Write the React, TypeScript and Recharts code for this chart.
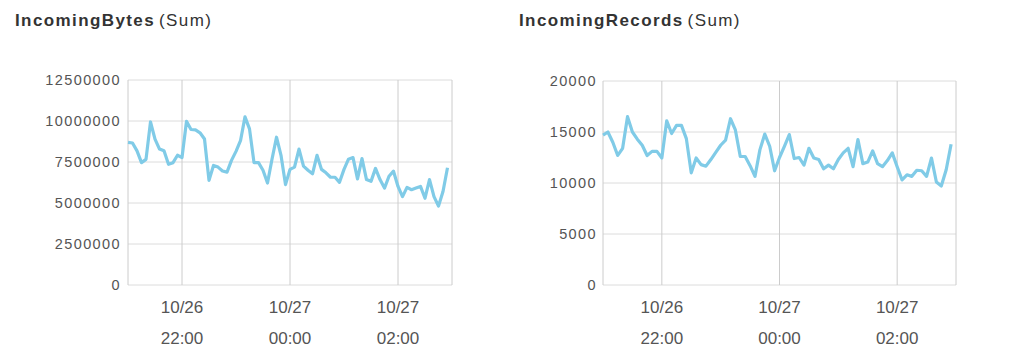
import React from 'react';
import { CartesianGrid, Line, LineChart, XAxis, YAxis } from 'recharts';

// minutes after 21:00 on 10/26, one sample every 5 minutes
const minutes = [
  0, 5, 10, 15, 20, 25, 30, 35, 40, 45, 50, 55, 60, 65, 70, 75, 80, 85, 90, 95, 100, 105, 110, 115,
  120, 125, 130, 135, 140, 145, 150, 155, 160, 165, 170, 175, 180, 185, 190, 195, 200, 205, 210, 215,
  220, 225, 230, 235, 240, 245, 250, 255, 260, 265, 270, 275, 280, 285, 290, 295, 300, 305, 310, 315,
  320, 325, 330, 335, 340, 345, 350, 355,
];

const incomingBytes = [
  8700000, 8660000, 8180000, 7460000, 7660000, 9940000, 8900000, 8290000, 8180000, 7360000, 7460000,
  7910000, 7770000, 9980000, 9480000, 9460000, 9280000, 8900000, 6380000, 7290000, 7190000, 6950000,
  6880000, 7600000, 8150000, 8800000, 10250000, 9520000, 7460000, 7460000, 7000000, 6220000, 7670000,
  9010000, 7910000, 6120000, 7050000, 7190000, 8290000, 7250000, 7000000, 6780000, 7910000, 7050000,
  6840000, 6570000, 6570000, 6260000, 7050000, 7670000, 7770000, 6470000, 7710000, 6430000, 6320000,
  7110000, 6430000, 5910000, 6630000, 6940000, 6010000, 5390000, 5950000, 5810000, 5910000, 6010000,
  5290000, 6430000, 5390000, 4810000, 5700000, 7150000,
];

const incomingRecords = [
  14700, 15000, 14000, 12700, 13400, 16500, 15000, 14300, 13700, 12700, 13100, 13100, 12450, 16100,
  14850, 15650, 15650, 14350, 11000, 12450, 11800, 11650, 12300, 13000, 13700, 14200, 16300, 15200,
  12600, 12600, 11700, 10650, 13250, 14800, 13600, 11200, 12500, 13600, 14750, 12400, 12500, 11750,
  13400, 12450, 12300, 11400, 11750, 11400, 12300, 12950, 13400, 11600, 14250, 11900, 12050, 13150,
  11900, 11600, 12200, 12950, 11600, 10300, 10800, 10650, 11250, 11200, 10650, 12450, 10100, 9700,
  11300, 13800,
];

const xTicks = [60, 180, 300];
const xTickDates = ['10/26', '10/27', '10/27'];
const xTickTimes = ['22:00', '00:00', '02:00'];

const bytesTicks = [0, 2500000, 5000000, 7500000, 10000000, 12500000];
const recordsTicks = [0, 5000, 10000, 15000, 20000];

const rows = minutes.map((m, i) => ({ m, bytes: incomingBytes[i], records: incomingRecords[i] }));

const FONT = '"Liberation Sans", Arial, Helvetica, sans-serif';
const LINE = '#80cbe7';
const TEXT = '#555';

function TimeTick({ x, y, payload }: { x?: number; y?: number; payload?: { value: number } }) {
  const i = xTicks.indexOf(payload?.value ?? -1);
  if (i < 0) return null;
  return (
    <g fontFamily={FONT} fontSize={17} fill={TEXT} textAnchor="middle">
      <text x={x} y={(y ?? 0) + 28}>{xTickDates[i]}</text>
      <text x={x} y={(y ?? 0) + 59}>{xTickTimes[i]}</text>
    </g>
  );
}

const yTick = { fontFamily: FONT, fontSize: 14.5, fill: TEXT, letterSpacing: 1.4 };

type PanelProps = {
  dataKey: 'bytes' | 'records';
  ticks: number[];
  width: number;
  margin: { top: number; right: number; bottom: number; left: number };
  tickMargin: number;
};

function Panel({ dataKey, ticks, width, margin, tickMargin }: PanelProps) {
  return (
    <LineChart width={width} height={363} data={rows} margin={margin}>
      <CartesianGrid stroke="#dcdcdc" vertical={false} />
      <CartesianGrid stroke="#cccccc" horizontal={false} />
      <XAxis
        dataKey="m"
        type="number"
        domain={[0, 360]}
        ticks={xTicks}
        height={60}
        axisLine={false}
        tickLine={false}
        tickSize={0}
        tickMargin={0}
        tick={<TimeTick />}
        interval={0}
      />
      <YAxis
        type="number"
        domain={[ticks[0], ticks[ticks.length - 1]]}
        ticks={ticks}
        width={100}
        axisLine={false}
        tickLine={false}
        tickSize={0}
        tickMargin={tickMargin}
        tick={yTick}
        interval={0}
      />
      <Line
        type="linear"
        dataKey={dataKey}
        stroke={LINE}
        strokeWidth={3.2}
        strokeLinejoin="round"
        dot={false}
        activeDot={false}
        isAnimationActive={false}
      />
    </LineChart>
  );
}

const titleStyle: React.CSSProperties = {
  position: 'absolute',
  top: 12,
  fontFamily: FONT,
  fontSize: 17,
  lineHeight: '17px',
  letterSpacing: 1.4,
  color: '#333',
  whiteSpace: 'nowrap',
};

export default function App() {
  return (
    <div style={{ position: 'absolute', left: 0, top: 0, width: 1035, height: 363, background: '#fff' }}>
      <div style={{ ...titleStyle, left: 15 }}>
        <b>IncomingBytes</b>
        <span style={{ marginLeft: 4 }}>(Sum)</span>
      </div>
      <div style={{ ...titleStyle, left: 519 }}>
        <b>IncomingRecords</b>
        <span style={{ marginLeft: 4 }}>(Sum)</span>
      </div>
      <div style={{ position: 'absolute', left: 0, top: 0 }}>
        <Panel
          dataKey="bytes"
          ticks={bytesTicks}
          width={470}
          margin={{ top: 80, right: 18, bottom: 18, left: 28 }}
          tickMargin={7}
        />
      </div>
      <div style={{ position: 'absolute', left: 490, top: 0 }}>
        <Panel
          dataKey="records"
          ticks={recordsTicks}
          width={490}
          margin={{ top: 81, right: 24, bottom: 18, left: 13 }}
          tickMargin={6}
        />
      </div>
    </div>
  );
}
